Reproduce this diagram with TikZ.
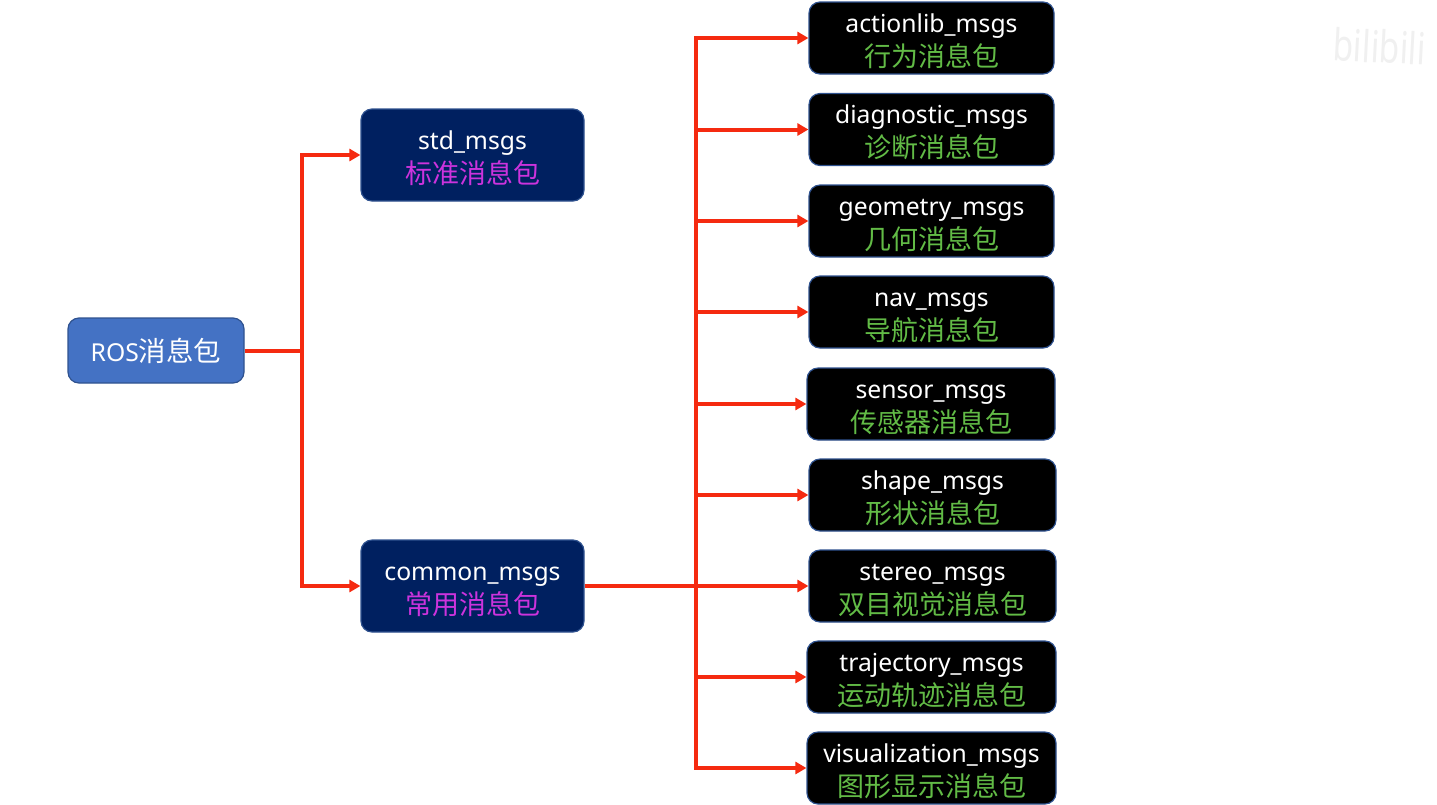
\documentclass[tikz,border=0pt]{standalone}
\usepackage{fontspec}
\setmainfont{Noto Sans}
\newfontfamily\cjk{Noto Sans CJK SC}
\usetikzlibrary{arrows.meta}

\definecolor{rootblue}{HTML}{4472C4}
\definecolor{pkgblue}{HTML}{002060}
\definecolor{edgeblue}{HTML}{2F528F}
\definecolor{linkred}{HTML}{F52A10}
\definecolor{pkgpink}{HTML}{CC33DD}
\definecolor{leafgreen}{HTML}{62BB46}

\newcommand{\boxtext}[3]{\rule{0pt}{25pt}#1\\[2pt]{\cjk\fontsize{27}{27}\selectfont\color{#2}#3}}

\tikzset{
    boxbase/.style={draw=edgeblue,line width=1.2pt,rounded corners=11pt,inner sep=0pt,text=white,align=center,font=\fontsize{24.7}{32}\selectfont},
    boxroot/.style={boxbase,fill=rootblue,minimum width=176pt,minimum height=65pt},
    boxpkg/.style={boxbase,fill=pkgblue,minimum width=223pt,minimum height=92pt},
    boxleaf/.style={boxbase,fill=black,minimum height=72pt},
    link/.style={draw=linkred,line width=4pt},
    linkto/.style={link,-{Triangle[length=11pt,width=12pt]}}
}

\begin{document}
\begin{tikzpicture}[x=1pt,y=-1pt]
\useasboundingbox (0,0) rectangle (1437,804);

\node[font=\fontsize{44}{44}\selectfont\bfseries,text=black!6,anchor=west,rotate=-3,xscale=0.76,inner sep=0pt] (mark) at (1333,44){bilibili};

\node[boxroot] (ros) at (156,350.5){ROS{\cjk\fontsize{27.5}{27.5}\selectfont 消息包}};
\node[boxpkg] (std) at (472.5,155){\boxtext{std\_msgs}{pkgpink}{标准消息包}};
\node[boxpkg] (common) at (472.5,586){\boxtext{common\_msgs}{pkgpink}{常用消息包}};

\foreach \name/\x/\y/\w/\en/\cn in {
    actionlib/931.5/38/245/actionlib\_msgs/行为消息包,
    diagnostic/931.5/129.5/245/diagnostic\_msgs/诊断消息包,
    geometry/931.5/221/245/geometry\_msgs/几何消息包,
    nav/931.5/312/245/nav\_msgs/导航消息包,
    sensor/931/404/248/sensor\_msgs/传感器消息包,
    shape/932.5/495/247/shape\_msgs/形状消息包,
    stereo/932.5/586/247/stereo\_msgs/双目视觉消息包,
    trajectory/931.5/677/249/trajectory\_msgs/运动轨迹消息包,
    visualization/931.5/768/249/visualization\_msgs/图形显示消息包}{
    \node[boxleaf,minimum width=\w pt] (\name) at (\x,\y){\boxtext{\en}{leafgreen}{\cn}};
}

\coordinate (fork) at (302,350.5);
\coordinate (trunk) at (696,586);

\draw[link] (ros.east)--(fork);
\draw[linkto] (fork)|-(std.west);
\draw[linkto] (fork)|-(common.west);

\draw[link] (common.east)--(trunk);
\foreach \name in {actionlib,diagnostic,geometry,nav,sensor,shape,stereo,trajectory,visualization}{
    \draw[linkto] (trunk)|-(\name.west);
}
\end{tikzpicture}
\end{document}
